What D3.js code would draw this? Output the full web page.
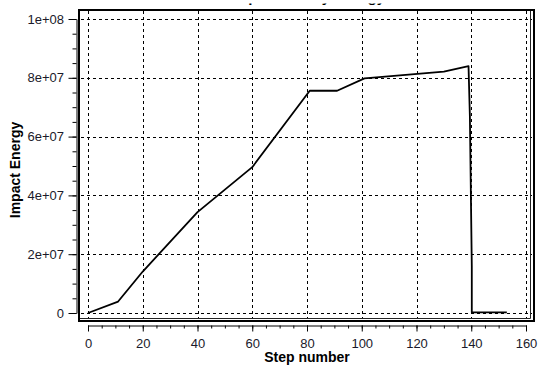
<!DOCTYPE html>
<html>
<head>
<meta charset="utf-8">
<script src="https://cdn.jsdelivr.net/npm/d3@7"></script>
<style>
  html, body { margin: 0; padding: 0; background: #fff; }
  svg { display: block; }
  text { font-family: "Liberation Sans", Arial, sans-serif; }
</style>
</head>
<body>
<svg id="chart" width="539" height="372"></svg>
<script>
// ---- data ----
const steps  = [0, 11, 20, 40, 60, 81, 91, 101, 130, 139, 139.5, 140.2, 140.2, 153];
const energy = [0, 3.9e6, 14.1e6, 34.3e6, 49.6e6, 75.6e6, 75.6e6, 79.8e6, 82.1e6, 84.0e6, 67e6, 16e6, 0.2e6, 0.2e6];
const xTicks = [0, 20, 40, 60, 80, 100, 120, 140, 160];
const yTicks = [0, 2e7, 4e7, 6e7, 8e7, 1e8];
const yTickLabels = ["0", "2e+07", "4e+07", "6e+07", "8e+07", "1e+08"];
const xMinor = d3.range(0, 161, 5);
const yMinor = d3.range(0, 1e8 + 1, 5e6);
const title = "Step Summary Energy";
const xTitle = "Step number";
const yTitle = "Impact Energy";

// ---- layout ----
const svg = d3.select("#chart");
const x = d3.scaleLinear().domain([0, 160]).range([88, 526]);
const y = d3.scaleLinear().domain([0, 1e8]).range([313, 19]);

// cropped title (only descenders visible, as in the reference)
svg.append("clipPath").attr("id", "titleClip")
  .append("rect").attr("x", 0).attr("y", 3.6).attr("width", 539).attr("height", 4);
svg.append("text").attr("x", 225).attr("y", 2.2)
  .attr("clip-path", "url(#titleClip)")
  .attr("font-size", 15).attr("font-weight", "bold").attr("fill", "#000")
  .text(title);

// grid
const grid = svg.append("g").attr("stroke", "#000").attr("stroke-width", 1)
  .attr("stroke-dasharray", "3,3").attr("fill", "none");
xTicks.forEach(t => grid.append("line")
  .attr("x1", Math.round(x(t)) + 0.5).attr("x2", Math.round(x(t)) + 0.5)
  .attr("y1", 11).attr("y2", 319));
yTicks.forEach(t => grid.append("line")
  .attr("y1", Math.round(y(t)) + 0.5).attr("y2", Math.round(y(t)) + 0.5)
  .attr("x1", 81).attr("x2", 532));

// frame
svg.append("rect").attr("x", 79).attr("y", 10).attr("width", 455).attr("height", 311)
  .attr("fill", "none").attr("stroke", "#000").attr("stroke-width", 2);
svg.append("line").attr("x1", 530.5).attr("x2", 530.5).attr("y1", 11).attr("y2", 318.5)
  .attr("stroke", "#222").attr("stroke-width", 1);
svg.append("line").attr("x1", 80).attr("x2", 530.5).attr("y1", 318.5).attr("y2", 318.5)
  .attr("stroke", "#222").attr("stroke-width", 1);

// data line
const line = d3.line().x((d, i) => x(steps[i])).y(d => y(d));
svg.append("path").datum(energy).attr("d", line)
  .attr("fill", "none").attr("stroke", "#000").attr("stroke-width", 1.8)
  .attr("stroke-linejoin", "round");

// x axis
const xAxisG = svg.append("g").attr("transform", "translate(0,325.5)");
xAxisG.call(d3.axisBottom(x).tickValues(xTicks).tickSize(6).tickSizeOuter(0).tickPadding(7)
  .tickFormat(d3.format("d")));
xAxisG.append("g").call(d3.axisBottom(x).tickValues(xMinor).tickSize(3).tickSizeOuter(0).tickFormat(""))
  .select(".domain").remove();

// y axis
const yAxisG = svg.append("g").attr("transform", "translate(76.5,0)");
yAxisG.call(d3.axisLeft(y).tickValues(yTicks).tickSize(8).tickSizeOuter(0).tickPadding(4.5)
  .tickFormat((d, i) => yTickLabels[i]));
yAxisG.append("g").call(d3.axisLeft(y).tickValues(yMinor).tickSize(4).tickSizeOuter(0).tickFormat(""))
  .select(".domain").remove();

svg.selectAll(".tick text").attr("font-size", 13)
  .attr("font-family", "'Liberation Sans', Arial, sans-serif").attr("fill", "#1a1a2a");
svg.selectAll(".domain, .tick line").attr("stroke", "#000");

// axis titles
svg.append("text").attr("x", 307).attr("y", 362).attr("text-anchor", "middle")
  .attr("font-size", 14).attr("font-weight", "bold").attr("fill", "#000").text(xTitle);
svg.append("text").attr("transform", "translate(19.5,170) rotate(-90)")
  .attr("text-anchor", "middle").attr("font-size", 14).attr("font-weight", "bold")
  .attr("fill", "#000").text(yTitle);
</script>
</body>
</html>
